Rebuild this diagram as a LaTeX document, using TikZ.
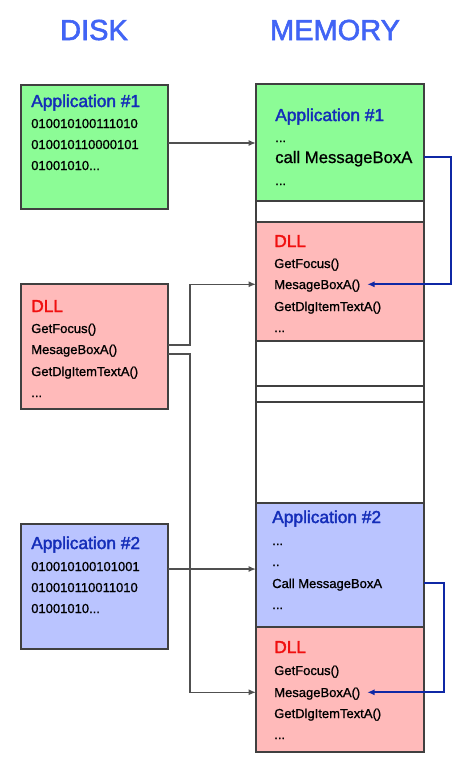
\documentclass[tikz,border=0pt]{standalone}
\usepackage{fontspec}
\setmainfont[FakeBold=1]{Liberation Sans}
\newfontfamily\headfont[FakeBold=2]{Liberation Sans}
\usetikzlibrary{arrows.meta}
\definecolor{headblue}{RGB}{65,100,245}
\definecolor{titleblue}{RGB}{20,45,185}
\definecolor{dllred}{RGB}{240,15,15}
\definecolor{appgreen}{RGB}{140,252,150}
\definecolor{dllpink}{RGB}{255,186,186}
\definecolor{appblue}{RGB}{186,196,255}
\definecolor{boxgray}{RGB}{64,64,64}
\definecolor{linegray}{RGB}{80,80,80}
\definecolor{callblue}{RGB}{15,40,165}

\begin{document}
\begin{tikzpicture}[
  x=0.75pt,y=-0.75pt,
  box/.style={draw=boxgray,line width=1.5pt,inner sep=0pt,outer sep=0pt,anchor=north west},
  dnode/.style={box,minimum width=110.25pt},
  mnode/.style={box,minimum width=126pt},
  tnode/.style={anchor=base west,inner sep=0pt,text depth=0pt,font=\fontsize{9.75pt}{12pt}\selectfont},
  hnode/.style={tnode,font=\headfont\fontsize{13pt}{15pt}\selectfont},
  cnode/.style={anchor=base,inner sep=0pt,text=headblue,font=\headfont\fontsize{21.75pt}{24pt}\selectfont},
  larrow/.style={draw=linegray,line width=1.1pt,-{Latex[length=5.5pt,width=4.5pt]}},
  barrow/.style={draw=callblue,line width=1.2pt,-{Latex[length=5.5pt,width=4.5pt]}}
]
  \useasboundingbox (0,0) rectangle (475,778);

  % column heads
  \node[cnode] (disk) at (94,40) {DISK};
  \node[cnode] (memory) at (335,40) {MEMORY};

  % disk boxes
  \node[dnode,fill=appgreen,minimum height=93pt] (dapp1) at (21,85) {};
  \node[dnode,fill=dllpink,minimum height=93.75pt] (ddll) at (21,284) {};
  \node[dnode,fill=appblue,minimum height=93.75pt] (dapp2) at (21,524) {};

  % memory boxes
  \node[mnode,fill=appgreen,minimum height=87.75pt] (mapp1) at (256,84) {};
  \node[mnode,fill=white,minimum height=15.75pt] (mgap1) at (mapp1.south west) {};
  \node[mnode,fill=dllpink,minimum height=89.25pt] (mdll1) at (mgap1.south west) {};
  \node[mnode,fill=white,minimum height=33.75pt] (mgap2) at (mdll1.south west) {};
  \node[mnode,fill=white,minimum height=12pt] (mgap3) at (mgap2.south west) {};
  \node[mnode,fill=white,minimum height=75.75pt] (mgap4) at (mgap3.south west) {};
  \node[mnode,fill=appblue,minimum height=93pt] (mapp2) at (mgap4.south west) {};
  \node[mnode,fill=dllpink,minimum height=93.75pt] (mdll2) at (mapp2.south west) {};

  % disk texts
  \node[hnode,text=titleblue] (d1h) at (31,107) {Application \#1};
  \node[tnode] (d1b1) at (31,128) {010010100111010};
  \node[tnode] (d1b2) at (31,149) {010010110000101};
  \node[tnode] (d1b3) at (31,170) {01001010...};

  \node[hnode,text=dllred] (ddh) at (31,312) {DLL};
  \node[tnode] (ddf1) at (31,333) {GetFocus()};
  \node[tnode] (ddf2) at (31,354) {MesageBoxA()};
  \node[tnode] (ddf3) at (31,376) {GetDlgItemTextA()};
  \node[tnode] (ddf4) at (31,397) {...};

  \node[hnode,text=titleblue] (d2h) at (31,549) {Application \#2};
  \node[tnode] (d2b1) at (31,571) {010010100101001};
  \node[tnode] (d2b2) at (31,592) {010010110011010};
  \node[tnode] (d2b3) at (31,613) {01001010...};

  % memory texts
  \node[hnode,text=titleblue] (m1h) at (275,121) {Application \#1};
  \node[tnode] (m1l1) at (275,142) {...};
  \node[tnode,font=\fontsize{12.5pt}{15pt}\selectfont] (mcall1) at (275,163) {call MessageBoxA};
  \node[tnode] (m1l3) at (275,185) {...};

  \node[hnode,text=dllred] (mdh1) at (274,247) {DLL};
  \node[tnode] (mfoc1) at (274,268) {GetFocus()};
  \node[tnode] (mmsg1) at (274,289) {MesageBoxA()};
  \node[tnode] (mdlg1) at (274,311) {GetDlgItemTextA()};
  \node[tnode] (mend1) at (274,332) {...};

  \node[hnode,text=titleblue] (m2h) at (272,523) {Application \#2};
  \node[tnode] (m2l1) at (272,545) {...};
  \node[tnode] (m2l2) at (272,566) {..};
  \node[tnode] (mcall2) at (272,588) {Call MessageBoxA};
  \node[tnode] (m2l4) at (272,609) {...};

  \node[hnode,text=dllred] (mdh2) at (274,653) {DLL};
  \node[tnode] (mfoc2) at (274,675) {GetFocus()};
  \node[tnode] (mmsg2) at (274,697) {MesageBoxA()};
  \node[tnode] (mdlg2) at (274,718) {GetDlgItemTextA()};
  \node[tnode] (mend2) at (274,739) {...};

  % load edges
  \coordinate (l1) at ([yshift=3pt]dapp1.east);
  \coordinate (l2) at ([yshift=1.1pt]ddll.east);
  \coordinate (l3) at ([yshift=-5.6pt]ddll.east);
  \coordinate (l4) at ([yshift=13.1pt]dapp2.east);
  \draw[larrow] (l1) -- (mapp1.west |- l1);
  \draw[larrow] (l2) -- ++(22,0) |- (mdll1.west |- mmsg1);
  \draw[larrow] (l3) -- ++(22,0) |- (mdll2.west |- mmsg2);
  \draw[larrow] (l4) -- (mapp2.west |- l4);

  % call edges
  \draw[barrow] (mapp1.east |- mcall1) -- ++(27,0) |- ([xshift=5pt]mmsg1.east);
  \draw[barrow] (mapp2.east |- mcall2) -- ++(20,0) |- ([xshift=5pt]mmsg2.east);

\end{tikzpicture}
\end{document}
